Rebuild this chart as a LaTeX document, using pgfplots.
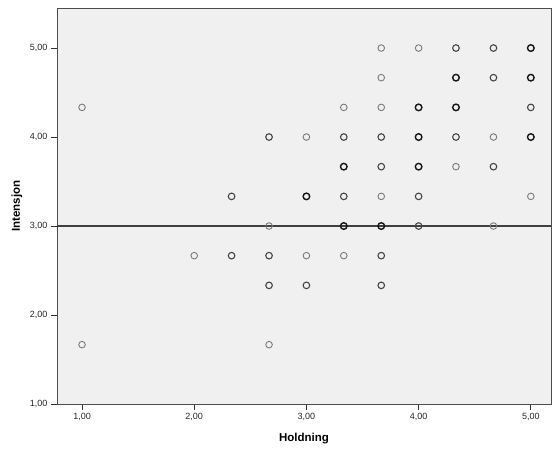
\documentclass[border=0pt]{standalone}
\usepackage{pgfplots}
\pgfplotsset{compat=1.18}
\usepackage{fontspec}
\setmainfont{Liberation Sans}
\definecolor{bgc}{HTML}{F0F0F0}
\definecolor{lightm}{HTML}{7A7A7A}
\definecolor{medm}{HTML}{454545}
\definecolor{darkm}{HTML}{151515}
\begin{document}
\begin{tikzpicture}
\begin{axis}[name=ax,
  scale only axis, width=494pt, height=396pt,
  xmin=0.777, xmax=5.18, ymin=1, ymax=5.45,
  axis background/.style={fill=bgc},
  axis line style={draw=black!70, line width=0.9pt},
  tick pos=left, tick align=outside,
  major tick length=6pt,
  tick style={black!80, line width=0.9pt},
  xtick={1,2,3,4,5}, ytick={1,2,3,4,5},
  xticklabels={{1,00},{2,00},{3,00},{4,00},{5,00}},
  yticklabels={{1,00},{2,00},{3,00},{4,00},{5,00}},
  ticklabel style={font=\fontsize{9}{10}\selectfont, text=black!85},
  xlabel={\textbf{Holdning}}, ylabel={\textbf{Intensjon}},
  label style={font=\fontsize{11.5}{13}\selectfont},
  xlabel style={at={(axis description cs:0.5,-0.086)}, anchor=center},
  ylabel style={at={(axis description cs:-0.081,0.5)}, anchor=center, rotate=0},
  clip=false,
]
\addplot[black!75, line width=1.1pt, forget plot] coordinates {(0.777,3) (5.18,3)};
\addplot[only marks, mark=o, mark size=3.3pt, mark options={draw=lightm, line width=0.9pt}] coordinates {
(1,4.333) (1,1.667) (2,2.667) (2.667,3.0) (2.667,1.667) (3,4.0)
(3.333,4.333) (3.333,2.667) (3.667,5.0) (3.667,4.667) (3.667,4.333) (3.667,3.333)
(4,5.0) (4.333,3.667) (4.667,4.0) (4.667,3.0) (5,3.333) (3,2.667)
};
\addplot[only marks, mark=o, mark size=3.3pt, mark options={draw=medm, line width=1.1pt}] coordinates {
(2.333,3.333) (2.333,2.667) (2.667,4.0) (2.667,2.667) (2.667,2.333) (3,2.333)
(3.333,4.0) (3.333,3.333) (3.667,4.0) (3.667,2.667) (3.667,2.333)
(4,3.333) (4,3.0) (4.333,5.0) (4.333,4.0) (4.667,5.0) (4.667,4.667) (4.667,3.667)
(5,4.333) (3.667,3.667)
};
\addplot[only marks, mark=o, mark size=3.3pt, mark options={draw=darkm, line width=1.4pt}] coordinates {
(5,5.0) (5,4.667) (5,4.0) (4,4.333) (4,4.0) (4,3.667) (4.333,4.667) (4.333,4.333)
(3,3.333) (3.333,3.667) (3.333,3.0) (3.667,3.0)
};
\end{axis}
\path ([shift={(-57pt,-47pt)}]ax.south west) rectangle ([shift={(2pt,8pt)}]ax.north east);
\end{tikzpicture}
\end{document}
